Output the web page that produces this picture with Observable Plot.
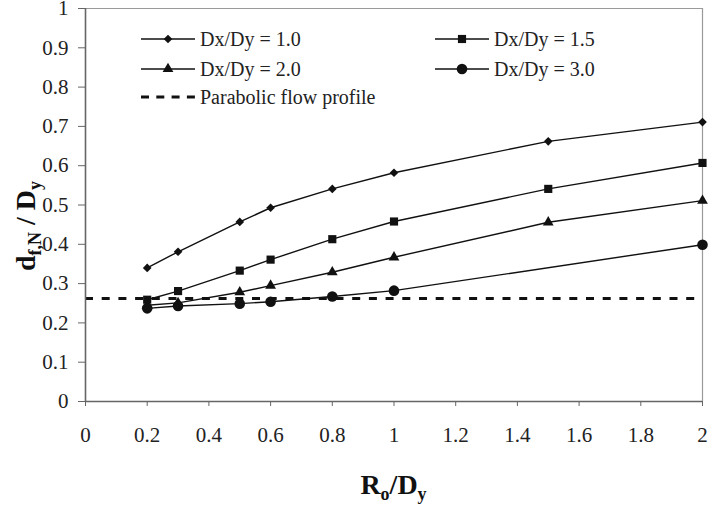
<!DOCTYPE html>
<html>
<head>
<meta charset="utf-8">
<script src="https://cdn.jsdelivr.net/npm/d3@7"></script>
<script src="https://cdn.jsdelivr.net/npm/@observablehq/plot@0.6"></script>
<style>
  html, body { margin: 0; padding: 0; background: #fff; }
  #chart { position: relative; width: 709px; height: 508px; }
  #chart svg text { font-family: 'Liberation Serif', 'Times New Roman', serif; }
  [aria-label="x-axis tick"], [aria-label="y-axis tick"] { stroke: #666; }
</style>
</head>
<body>
<div id="chart"></div>
<script>
// ---- data ----
const xA = [0.2, 0.3, 0.5, 0.6, 0.8, 1.0, 1.5, 2.0];
const y10 = [0.340, 0.381, 0.457, 0.493, 0.541, 0.582, 0.662, 0.711];
const y15 = [0.259, 0.281, 0.333, 0.361, 0.413, 0.458, 0.541, 0.607];
const y20 = [0.245, 0.251, 0.278, 0.295, 0.329, 0.367, 0.456, 0.511];
const xC = [0.2, 0.3, 0.5, 0.6, 0.8, 1.0, 2.0];
const y30 = [0.237, 0.243, 0.249, 0.254, 0.267, 0.282, 0.399];
const parabolic = 0.262;
const seriesNames = ["Dx/Dy = 1.0", "Dx/Dy = 1.5", "Dx/Dy = 2.0", "Dx/Dy = 3.0"];
const parabolicName = "Parabolic flow profile";
const xTicks = [0, 0.2, 0.4, 0.6, 0.8, 1, 1.2, 1.4, 1.6, 1.8, 2];
const yTicks = [0, 0.1, 0.2, 0.3, 0.4, 0.5, 0.6, 0.7, 0.8, 0.9, 1];

const toRows = (xs, ys) => xs.map((x, i) => ({x, y: ys[i]}));
const series = [
  {name: seriesNames[0], rows: toRows(xA, y10), symbol: "diamond2", r: 3.9},
  {name: seriesNames[1], rows: toRows(xA, y15), symbol: "square", r: 4.6},
  {name: seriesNames[2], rows: toRows(xA, y20), symbol: "triangle", r: 4.0},
  {name: seriesNames[3], rows: toRows(xC, y30), symbol: "circle", r: 5.3}
];

const fmt = d => String(+d.toFixed(1));
const FONT = "'Liberation Serif', 'Times New Roman', serif";

const marks = [
  Plot.ruleY([1], {stroke: "#9a9a9a", strokeWidth: 1.2}),
  Plot.ruleX([2], {stroke: "#9a9a9a", strokeWidth: 1.2}),
  Plot.ruleY([parabolic], {stroke: "#111", strokeWidth: 3, strokeDasharray: "8,8.7"})
];
for (const s of series) {
  marks.push(Plot.line(s.rows, {x: "x", y: "y", stroke: "#111", strokeWidth: 1.4}));
}
for (const s of series) {
  marks.push(Plot.dot(s.rows, {x: "x", y: "y", symbol: () => s.symbol, fill: "#111", stroke: "none", r: s.r}));
}
marks.push(Plot.ruleY([0], {stroke: "#666", strokeWidth: 1.6}));
marks.push(Plot.ruleX([0], {stroke: "#666", strokeWidth: 1.6}));

const plot = Plot.plot({
  width: 709,
  height: 508,
  marginLeft: 85,
  marginRight: 7,
  marginTop: 8,
  marginBottom: 107,
  style: {fontFamily: FONT, fontSize: "21px", color: "#222", background: "#fff"},
  x: {domain: [0, 2], ticks: xTicks, tickFormat: fmt, tickSize: 5, tickPadding: 21, label: null},
  y: {domain: [0, 1], ticks: yTicks, tickFormat: fmt, tickSize: 7, tickPadding: 10, label: null},
  symbol: {type: "identity"},
  marks
});
document.getElementById("chart").appendChild(plot);

// ---- titles and legend added to the same SVG ----
const svg = d3.select(plot);
const xs = plot.scale("x");
const plotCx = (xs.range[0] + xs.range[1]) / 2;

// x title: R_o/D_y
const xt = svg.append("text")
  .attr("x", plotCx).attr("y", 494)
  .attr("text-anchor", "middle")
  .attr("font-family", FONT).attr("font-weight", "bold").attr("font-size", 28).attr("fill", "#111");
xt.append("tspan").text("R");
xt.append("tspan").attr("font-size", 18).attr("dy", 6).text("o");
xt.append("tspan").attr("dy", -6).text("/D");
xt.append("tspan").attr("font-size", 18).attr("dy", 6).text("y");

// y title: d_{f,N} / D_y
const yt = svg.append("text")
  .attr("transform", "translate(35,226) rotate(-90)")
  .attr("text-anchor", "middle")
  .attr("font-family", FONT).attr("font-weight", "bold").attr("font-size", 28).attr("fill", "#111");
yt.append("tspan").text("d");
yt.append("tspan").attr("font-size", 18).attr("dy", 6).text("f,N");
yt.append("tspan").attr("dy", -6).text(" / D");
yt.append("tspan").attr("font-size", 18).attr("dy", 6).text("y");

// legend
const symbolType = {diamond2: d3.symbolDiamond2, square: d3.symbolSquare, triangle: d3.symbolTriangle, circle: d3.symbolCircle};
const legendItems = [
  {s: series[0], x: 141, y: 39},
  {s: series[1], x: 435, y: 39},
  {s: series[2], x: 141, y: 69},
  {s: series[3], x: 435, y: 69}
];
const lg = svg.append("g").attr("font-family", FONT).attr("font-size", 20).attr("fill", "#222")
  .attr("text-anchor", "start");
for (const it of legendItems) {
  lg.append("line").attr("x1", it.x).attr("x2", it.x + 54).attr("y1", it.y).attr("y2", it.y)
    .attr("stroke", "#111").attr("stroke-width", 1.4);
  lg.append("path")
    .attr("transform", `translate(${it.x + 27},${it.y})`)
    .attr("d", d3.symbol(symbolType[it.s.symbol], Math.PI * it.s.r * it.s.r)())
    .attr("fill", "#111");
  lg.append("text").attr("x", it.x + 59).attr("y", it.y).attr("dy", "0.35em")
    .attr("text-anchor", "start").text(it.s.name);
}
lg.append("line").attr("x1", 141).attr("x2", 195).attr("y1", 97).attr("y2", 97)
  .attr("stroke", "#111").attr("stroke-width", 3).attr("stroke-dasharray", "8,7.3");
lg.append("text").attr("x", 200).attr("y", 97).attr("dy", "0.35em")
  .attr("text-anchor", "start").text(parabolicName);
</script>
</body>
</html>
